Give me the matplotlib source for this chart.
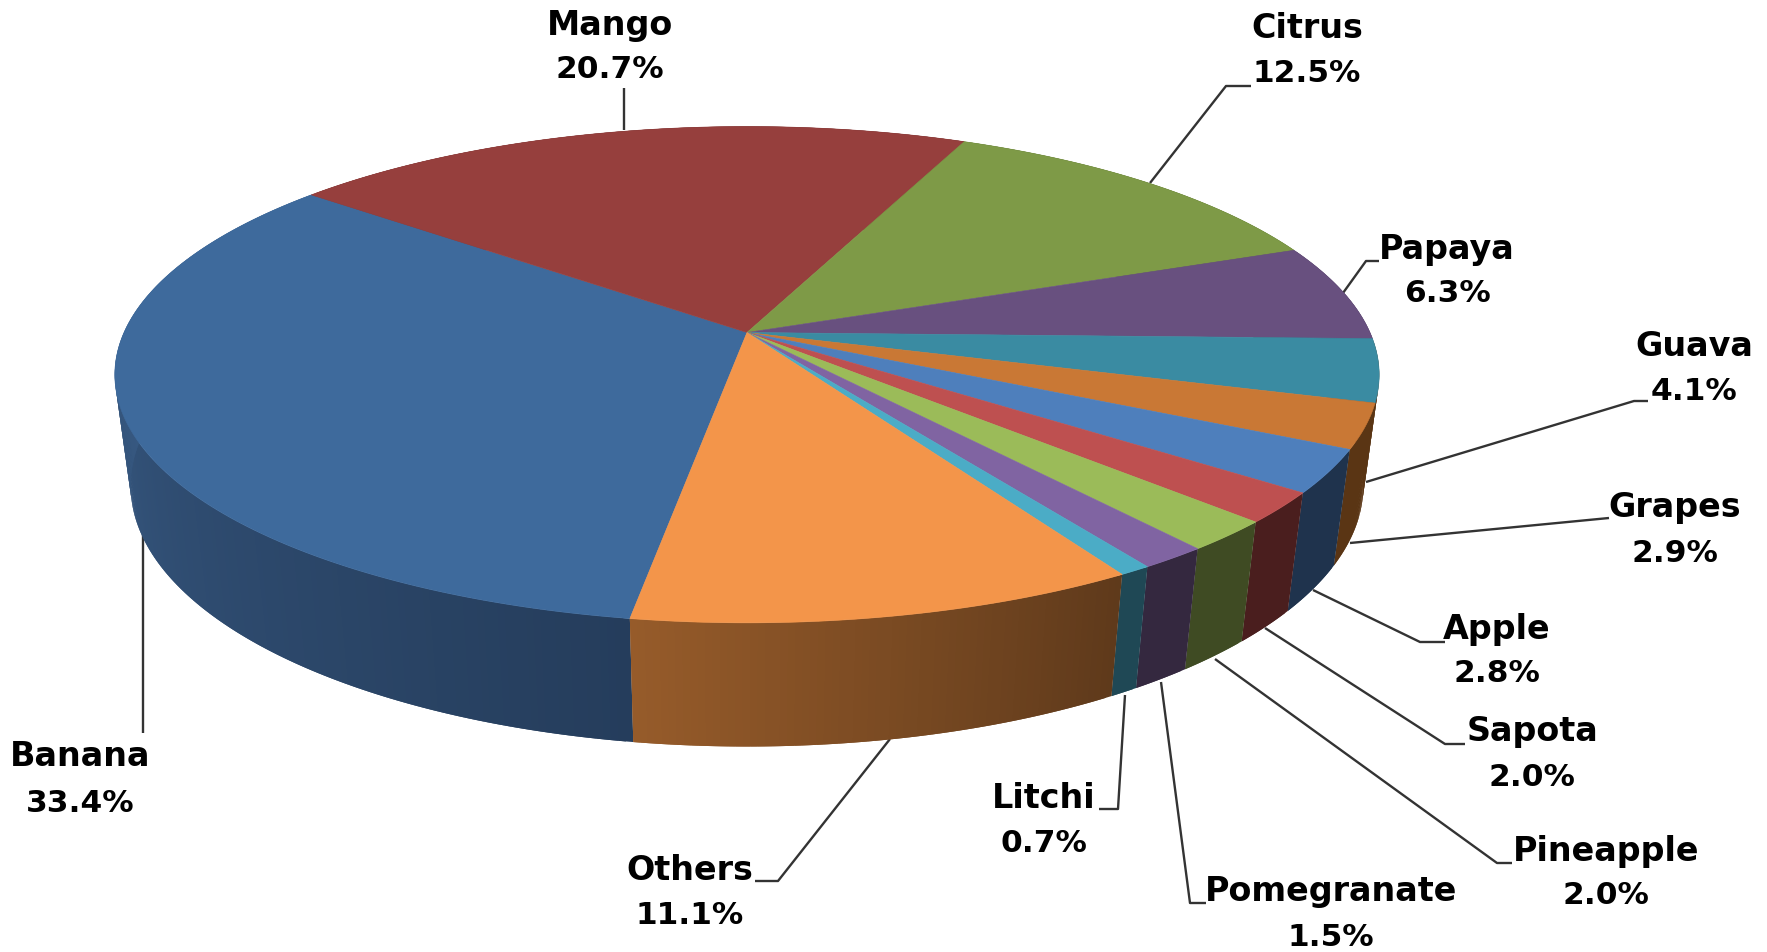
import numpy as np
import matplotlib
matplotlib.use("Agg")
import matplotlib.pyplot as plt
from matplotlib.collections import PolyCollection

# chart data
fruits = ['Banana', 'Mango', 'Citrus', 'Papaya', 'Guava', 'Grapes', 'Apple',
          'Sapota', 'Pineapple', 'Pomegranate', 'Litchi', 'Others']
shares = [33.4, 20.7, 12.5, 6.3, 4.1, 2.9, 2.8, 2.0, 2.0, 1.5, 0.7, 11.1]

# slice colours: top face, then the side at start and end of the slice
top_colors = ['#3e6a9c', '#963f3d', '#7e9a47', '#68507f', '#3a8ba2', '#c97835',
              '#4e7fbc', '#be5050', '#9bbb59', '#8064a2', '#4bacc6', '#f3954a']
side_start = ['#253d5c', '#5a2625', '#4b5c2a', '#3e304c', '#5a3514', '#5a3514',
              '#1f334d', '#4a1e1e', '#3f4b23', '#34283f', '#1f4855', '#5f3a1b']
side_end = ['#3f6592', '#5a2625', '#4b5c2a', '#3e304c', '#5a3514', '#5a3514',
            '#1f334d', '#4a1e1e', '#3f4b23', '#34283f', '#1f4855', '#965b2a']

# label centres (x, y of name, y of value), leader lines, in image pixels
label_pos = [(80, 757, 803), (610, 25, 70), (1307, 29, 74), (1447, 249, 294),
             (1694, 346, 391), (1675, 508, 553), (1497, 629, 674), (1532, 732, 777),
             (1606, 851, 896), (1331, 892, 937), (1044, 799, 844), (690, 871, 916)]
leaders = [[(143, 733), (143, 535)],
           [(624, 88), (624, 130)],
           [(1251, 86), (1226, 86), (1150, 183)],
           [(1379, 261), (1366, 261), (1343, 293)],
           [(1648, 401), (1634, 401), (1366, 482)],
           [(1609, 518), (1350, 543)],
           [(1445, 642), (1420, 642), (1313, 590)],
           [(1465, 744), (1445, 744), (1265, 628)],
           [(1512, 863), (1497, 863), (1215, 659)],
           [(1206, 903), (1190, 903), (1161, 682)],
           [(1099, 809), (1118, 809), (1125, 695)],
           [(755, 881), (778, 881), (890, 739)]]

# pie geometry: a circle seen in perspective
start_angle = 189.0
cx, cy = 747, 332.5
rx, ry = 623, 241
tilt = 0.17
drop = 113
shrink = 0.025


def project(theta, bottom=False):
    # theta is degrees clockwise from north
    t = np.radians(theta)
    X, Y = np.sin(t), np.cos(t)
    w = 1 + tilt * Y + (shrink if bottom else 0)
    px = cx + rx * X / w
    py = cy + (-ry * Y + (drop if bottom else 0)) / w
    return px, py


def blend(c1, c2, f):
    a = np.array(matplotlib.colors.to_rgb(c1))
    b = np.array(matplotlib.colors.to_rgb(c2))
    return a + (b - a) * f


fig = plt.figure(figsize=(17.67, 9.52), dpi=100)
ax = fig.add_axes([0, 0, 1, 1])
ax.set_xlim(0, 1767)
ax.set_ylim(952, 0)
ax.axis('off')

# angles of the slice edges
edges = start_angle + np.concatenate([[0], np.cumsum(shares)]) / sum(shares) * 360

# side wall first, the top faces cover the back part of it
# each quad overlaps the next one so no seams show between them
for i in range(len(shares)):
    ang = np.linspace(edges[i], edges[i + 1], int(shares[i] * 6) + 4)
    tx, ty = project(ang)
    bx, by = project(ang, bottom=True)
    quads = []
    cols = []
    for j in range(len(ang) - 1):
        k = min(j + 2, len(ang) - 1)
        quads.append([(tx[j], ty[j]), (tx[k], ty[k]), (bx[k], by[k]), (bx[j], by[j])])
        cols.append(blend(side_start[i], side_end[i], j / (len(ang) - 2)))
    ax.add_collection(PolyCollection(quads, facecolors=cols, edgecolors='none', zorder=1 + i * 0.01))

# top faces
for i in range(len(shares)):
    ang = np.linspace(edges[i], edges[i + 1], int(shares[i] * 6) + 4)
    tx, ty = project(ang)
    ax.fill(np.r_[cx, tx], np.r_[cy, ty], color=top_colors[i], lw=0.4, zorder=2)

# leader lines and labels
for line in leaders:
    xs, ys = zip(*line)
    ax.plot(xs, ys, color='#333333', lw=1.7, zorder=0, solid_capstyle='butt')

for name, share, pos in zip(fruits, shares, label_pos):
    ax.text(pos[0], pos[1], name, ha='center', va='center', fontsize=24, fontweight='bold', color='black')
    ax.text(pos[0], pos[2], f'{share:.1f}%', ha='center', va='center', fontsize=22.5, fontweight='bold', color='black')

fig.savefig('out.png', dpi=100)
